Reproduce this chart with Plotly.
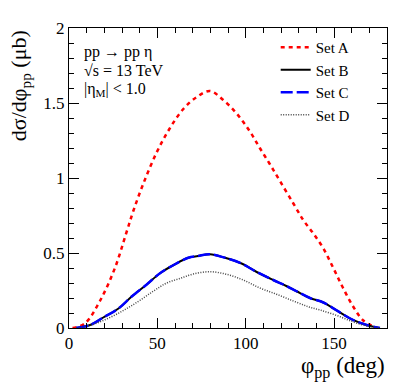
import plotly.graph_objects as go

# Set A (red dashed)
a_x = [2, 9, 17.5, 26, 32.6, 36.4, 42, 49.6, 57, 64.7, 72.3, 79.8, 87.3, 94.9, 102.4,
       108, 113.8, 119.4, 127, 132.6, 138.3, 144, 149.6, 155, 161, 166.6, 174]
a_y = [0.0, 0.03, 0.18, 0.40, 0.64, 0.78, 0.96, 1.17, 1.33, 1.46, 1.54, 1.58, 1.52, 1.43, 1.31,
       1.20, 1.09, 0.98, 0.83, 0.72, 0.63, 0.53, 0.40, 0.27, 0.14, 0.05, 0.0]

# Sets B and C (practically identical)
bc_x = [4, 12, 19.4, 28, 35.5, 44, 51.5, 60, 67.5, 73, 79.8, 88.3, 97.7, 106, 115.6,
        123, 128.8, 136.4, 144, 151.5, 161, 168.5, 176]
bc_y = [0.0, 0.02, 0.07, 0.13, 0.21, 0.29, 0.365, 0.425, 0.468, 0.48, 0.492, 0.468, 0.43, 0.375, 0.32,
        0.28, 0.245, 0.20, 0.17, 0.117, 0.052, 0.02, 0.0]

# Set D (dotted)
d_x = [4, 10, 19.4, 29, 38.3, 47.7, 55.3, 62.8, 70.4, 79.8, 89.2, 98.6, 108, 117.5,
       127, 135.4, 142, 151.5, 161, 170, 176]
d_y = [0.0, 0.01, 0.05, 0.105, 0.17, 0.245, 0.30, 0.33, 0.36, 0.375, 0.358, 0.32, 0.267, 0.225,
       0.18, 0.142, 0.12, 0.084, 0.04, 0.01, 0.0]

FONT = "'Liberation Serif', 'Times New Roman', serif"

fig = go.Figure()
fig.add_trace(go.Scatter(x=a_x, y=a_y, name="Set A", mode="lines", line_shape="spline",
                         line=dict(color="#ff0000", width=2.5, dash="4px,4px")))
fig.add_trace(go.Scatter(x=bc_x, y=bc_y, name="Set B", mode="lines", line_shape="spline",
                         line=dict(color="black", width=2)))
fig.add_trace(go.Scatter(x=bc_x, y=bc_y, name="Set C", mode="lines", line_shape="spline",
                         line=dict(color="#0000ff", width=2.5, dash="12px,4px")))
fig.add_trace(go.Scatter(x=d_x, y=d_y, name="Set D", mode="lines", line_shape="spline",
                         line=dict(color="#444444", width=1.5, dash="1px,1.5px")))

axis_common = dict(
    showgrid=False, zeroline=False, showline=True, linecolor="black", linewidth=1,
    mirror="ticks", ticks="inside", ticklen=10, tickcolor="black",
    tickfont=dict(family=FONT, size=17, color="black"),
)
fig.update_xaxes(range=[0, 180], dtick=50, tick0=0,
                 minor=dict(dtick=10, ticks="inside", ticklen=5, tickcolor="black"),
                 **axis_common)
fig.update_yaxes(range=[0, 2], dtick=0.5, tick0=0,
                 minor=dict(dtick=0.1, ticks="inside", ticklen=5, tickcolor="black"),
                 **axis_common)

txt = dict(family=FONT, size=16, color="black")
fig.add_annotation(text="pp → pp η", x=0.04, y=0.92, xref="paper", yref="paper",
                   xanchor="left", yanchor="middle", showarrow=False, font=txt)
fig.add_annotation(text="√s = 13 TeV", x=0.04, y=0.86, xref="paper", yref="paper",
                   xanchor="left", yanchor="middle", showarrow=False, font=txt)
fig.add_annotation(text="|η<sub>M</sub>| < 1.0", x=0.04, y=0.795, xref="paper", yref="paper",
                   xanchor="left", yanchor="middle", showarrow=False, font=txt)

fig.add_annotation(text="dσ/dφ<sub>pp</sub> (μb)", x=-0.155, y=1.0, xref="paper", yref="paper",
                   xanchor="center", yanchor="top", textangle=-90, showarrow=False,
                   font=dict(family=FONT, size=22, color="black"))
fig.add_annotation(text="φ<sub>pp</sub> (deg)", x=1.0, y=-0.075, xref="paper", yref="paper",
                   xanchor="right", yanchor="top", showarrow=False,
                   font=dict(family=FONT, size=23, color="black"))

# page body adds an 8px offset, so the figure is shrunk to keep the plot box in place
fig.update_layout(
    width=399, height=379,
    margin=dict(l=61, r=20, t=11, b=59),
    plot_bgcolor="white", paper_bgcolor="white",
    legend=dict(x=0.65, y=0.99, xanchor="left", yanchor="top",
                font=dict(family=FONT, size=15, color="black"),
                bgcolor="rgba(0,0,0,0)", tracegroupgap=0, itemwidth=30),
)

fig.write_html("out.html")
